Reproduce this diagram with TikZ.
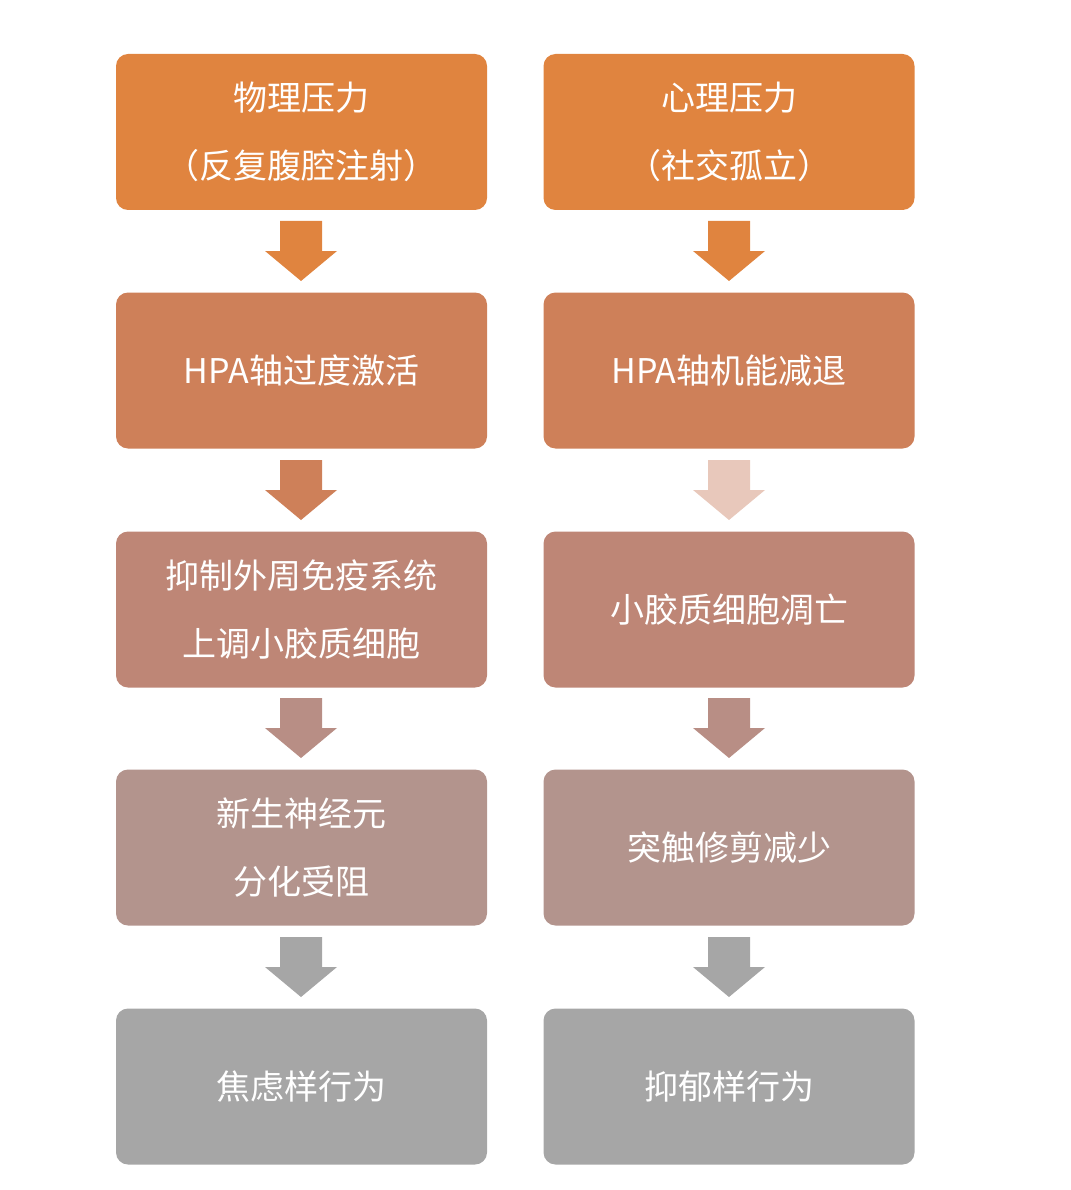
\documentclass[tikz,border=0pt]{standalone}
\usepackage{fontspec}
\newfontfamily\cjk{Noto Sans CJK SC}
\definecolor{c1}{HTML}{E0843F}
\definecolor{c2}{HTML}{CE8059}
\definecolor{c3}{HTML}{BE8676}
\definecolor{c4}{HTML}{B3948D}
\definecolor{c5}{HTML}{A6A6A6}
\definecolor{a2r}{HTML}{E8C8BB}
\definecolor{a3}{HTML}{B88E85}
\newcommand{\barrow}[3]{\fill[#3] (#1-21,#2) -- (#1+21,#2) -- (#1+21,#2+30) -- (#1+36,#2+30) -- (#1,#2+60) -- (#1-36,#2+30) -- (#1-21,#2+30) -- cycle;}
\begin{document}
\begin{tikzpicture}[x=1pt,y=-1pt,
  box/.style={rounded corners=12pt,minimum width=371pt,minimum height=156pt,inner sep=0pt,text=white,font=\cjk\fontsize{34}{68}\selectfont,align=center}]
\useasboundingbox (0,0) rectangle (1070,1190);
\node[box,fill=c1] (l1) at (301.5,132) {物理压力\\（反复腹腔注射）};
\node[box,fill=c1] (r1) at (729,132) {心理压力\\（社交孤立）};
\node[box,fill=c2] (l2) at (301.5,370.5) {HPA轴过度激活};
\node[box,fill=c2] (r2) at (729,370.5) {HPA轴机能减退};
\node[box,fill=c3] (l3) at (301.5,609.5) {抑制外周免疫系统\\上调小胶质细胞};
\node[box,fill=c3] (r3) at (729,609.5) {小胶质细胞凋亡};
\node[box,fill=c4] (l4) at (301.5,847.5) {新生神经元\\分化受阻};
\node[box,fill=c4] (r4) at (729,847.5) {突触修剪减少};
\node[box,fill=c5] (l5) at (301.5,1086.5) {焦虑样行为};
\node[box,fill=c5] (r5) at (729,1086.5) {抑郁样行为};
\barrow{301}{221}{c1}\barrow{729}{221}{c1}
\barrow{301}{460}{c2}\barrow{729}{460}{a2r}
\barrow{301}{698}{a3}\barrow{729}{698}{a3}
\barrow{301}{937}{c5}\barrow{729}{937}{c5}
\end{tikzpicture}
\end{document}
